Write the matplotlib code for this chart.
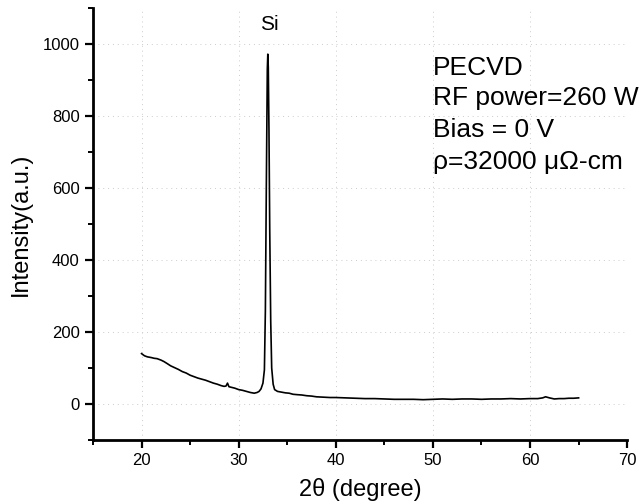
import matplotlib
matplotlib.use("Agg")
import matplotlib.pyplot as plt
from matplotlib.ticker import MultipleLocator

# XRD scan (2theta in degrees, intensity in a.u.)
two_theta = [20.0, 20.3, 20.6, 21.0, 21.3, 21.6, 22.0, 22.3, 22.6, 23.0,
             23.4, 23.8, 24.2, 24.6, 25.0, 25.4, 25.8, 26.2, 26.6, 27.0,
             27.4, 27.8, 28.2, 28.5, 28.7, 28.85, 29.0, 29.3, 29.6, 30.0,
             30.4, 30.8, 31.2, 31.6, 31.9, 32.1, 32.3, 32.5, 32.65, 32.75,
             32.85, 32.95, 33.0, 33.05, 33.12, 33.2, 33.3, 33.4, 33.55, 33.7,
             34.0, 34.4, 34.8, 35.2, 35.6, 36.0, 36.5, 37.0, 37.5, 38.0,
             38.7, 39.4, 40.0, 41.0, 42.0, 43.0, 44.0, 45.0, 46.0, 47.0,
             48.0, 49.0, 50.0, 51.0, 52.0, 53.0, 54.0, 55.0, 56.0, 57.0,
             58.0, 59.0, 60.0, 60.8, 61.3, 61.6, 62.0, 62.5, 63.0, 63.5,
             64.0, 64.5, 65.0]
intensity = [140, 134, 131, 129, 127, 126, 122, 118, 113, 106,
             101, 96, 90, 86, 80, 76, 72, 69, 66, 62,
             58, 55, 51, 49, 50, 58, 48, 46, 44, 40,
             38, 35, 32, 30, 32, 35, 42, 58, 95, 260,
             610, 930, 972, 935, 760, 480, 230, 100, 55, 40,
             35, 33, 31, 30, 27, 26, 25, 23, 22, 20,
             19, 18, 18, 17, 16, 15, 15, 14, 13, 13,
             13, 12, 13, 14, 13, 14, 14, 13, 14, 14,
             15, 14, 15, 15, 17, 20, 17, 14, 15, 15,
             16, 16, 17]

info_lines = ["PECVD", "RF power=260 W", "Bias = 0 V", "\u03c1=32000 \u03bc\u03a9-cm"]
info_y = [914, 830, 741, 652]

plt.rcParams['font.family'] = ['Liberation Sans', 'DejaVu Sans']

fig = plt.figure(figsize=(6.39, 5.04), dpi=100, facecolor='white')
ax = fig.add_axes([0.1455, 0.127, 0.836, 0.857])

ax.plot(two_theta, intensity, color='black', linewidth=1.2)

ax.set_xlim(15, 70)
ax.set_ylim(-100, 1100)
ax.xaxis.set_major_locator(MultipleLocator(10))
ax.xaxis.set_minor_locator(MultipleLocator(5))
ax.yaxis.set_major_locator(MultipleLocator(200))
ax.yaxis.set_minor_locator(MultipleLocator(100))

for side in ['top', 'right']:
    ax.spines[side].set_visible(False)
for side in ['left', 'bottom']:
    ax.spines[side].set_linewidth(2)

ax.tick_params(which='major', direction='out', length=6, width=1.6, labelsize=12)
ax.tick_params(which='minor', direction='out', length=3.5, width=1.4)
ax.set_xticks([20, 30, 40, 50, 60, 70])

# faded scan grid
ax.grid(which='major', color='#cccccc', linestyle=(0, (1, 4)), linewidth=0.7)

ax.set_xlabel("2\u03b8 (degree)", fontsize=17, labelpad=7)
ax.set_ylabel("Intensity(a.u.)", fontsize=17, labelpad=8)

ax.text(33.2, 1055, "Si", fontsize=15, ha='center', va='center')
for line, yv in zip(info_lines, info_y):
    ax.text(50.0, yv, line, fontsize=19, ha='left', va='baseline', clip_on=False)

plt.savefig("out.png", dpi=100)
